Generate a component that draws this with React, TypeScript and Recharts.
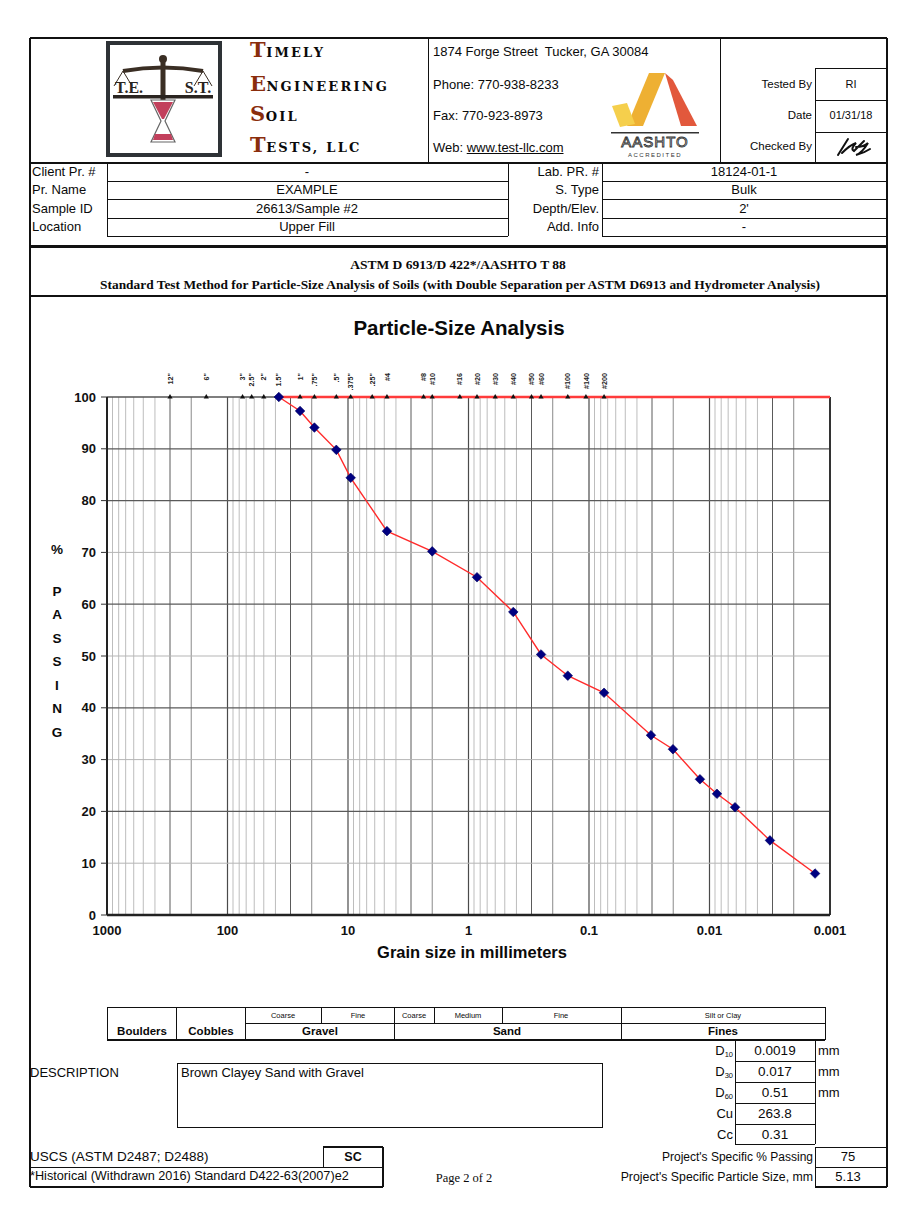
import React from "react";
import { ScatterChart, Scatter, XAxis, YAxis, ReferenceLine } from "recharts";

// gradation results (sieve + hydrometer), grain size in mm vs % passing
const SIZE_MM = [37.5, 25, 19, 12.5, 9.5, 4.75, 2.0, 0.85, 0.425, 0.25, 0.15, 0.075, 0.0306, 0.0201, 0.012, 0.00867, 0.00614, 0.00315, 0.00133];
const PCT_PASSING = [100, 97.3, 94.1, 89.8, 84.4, 74.1, 70.2, 65.2, 58.5, 50.3, 46.2, 42.9, 34.7, 32.0, 26.2, 23.4, 20.8, 14.4, 8.0];

// sieve openings marked along the top of the plot
const SIEVE_MM = [300, 150, 75, 63, 50, 37.5, 25, 19, 12.5, 9.5, 6.3, 4.75, 2.36, 2.0, 1.18, 0.85, 0.6, 0.425, 0.3, 0.25, 0.15, 0.106, 0.075];
const SIEVE_LABELS = ['12"', '6"', '3"', '2.5"', '2"', '1.5"', '1"', '.75"', '.5"', '.375"', '.25"', "#4", "#8", "#10", "#16", "#20", "#30", "#40", "#50", "#60", "#100", "#140", "#200"];

const X_TICKS = [1000, 100, 10, 1, 0.1, 0.01, 0.001];
const Y_TICKS = [0, 10, 20, 30, 40, 50, 60, 70, 80, 90, 100];
const DECADES = [100, 10, 1, 0.1, 0.01, 0.001];
const MINOR_STEPS = [2, 3, 4, 5, 6, 7, 8, 9];
const DARK_ROWS = [20, 40, 60, 80, 90];
const LIGHT_ROWS = [10, 30, 50, 70];

const SANS = "'Liberation Sans', Arial, sans-serif";
const SERIF = "'Liberation Serif', 'Times New Roman', serif";

const gradation = SIZE_MM.map((size, i) => ({ size, pct: PCT_PASSING[i] }));
const sieves = SIEVE_MM.map((size, i) => ({ size, pct: 100, label: SIEVE_LABELS[i] }));

type TP = {
  x: number;
  y: number;
  s?: number;
  a?: "l" | "c" | "r";
  b?: boolean;
  f?: string;
  c?: string;
  w?: number;
  children: React.ReactNode;
};

function T({ x, y, s = 13, a = "l", b, f = SANS, c = "#0a0a0a", w = 400, children }: TP) {
  const st: React.CSSProperties = {
    position: "absolute",
    top: y - s * 0.6,
    lineHeight: `${s * 1.2}px`,
    fontSize: s,
    fontFamily: f,
    fontWeight: b ? 700 : 400,
    color: c,
    whiteSpace: "nowrap",
  };
  if (a === "l") st.left = x;
  else if (a === "r") {
    st.left = x - w;
    st.width = w;
    st.textAlign = "right";
  } else {
    st.left = x - w / 2;
    st.width = w;
    st.textAlign = "center";
  }
  return <div style={st}>{children}</div>;
}

function H({ x1, x2, y, t = 1, c = "#111" }: { x1: number; x2: number; y: number; t?: number; c?: string }) {
  return <div style={{ position: "absolute", left: x1, top: y - t / 2, width: x2 - x1, height: t, background: c }} />;
}
function V({ x, y1, y2, t = 1, c = "#111" }: { x: number; y1: number; y2: number; t?: number; c?: string }) {
  return <div style={{ position: "absolute", left: x - t / 2, top: y1, width: t, height: y2 - y1, background: c }} />;
}

const Diamond = (props: any) => {
  const { cx, cy } = props;
  if (cx == null || cy == null) return null;
  const r = 4.8;
  return (
    <polygon
      points={`${cx},${cy - r} ${cx + r},${cy} ${cx},${cy + r} ${cx - r},${cy}`}
      fill="#000080"
      stroke="#000060"
      strokeWidth={0.6}
    />
  );
};

const SieveMark = (props: any) => {
  const { cx, cy, payload } = props;
  if (cx == null || cy == null) return null;
  return (
    <g>
      <polygon points={`${cx},${cy - 3} ${cx + 2.6},${cy + 1.5} ${cx - 2.6},${cy + 1.5}`} fill="#111" />
      <text
        transform={`translate(${cx + 2.6},${cy - 24}) rotate(-90)`}
        textAnchor="end"
        fontSize={7.2}
        fontWeight={700}
        fontFamily={SANS}
        fill="#222"
      >
        {payload.label}
      </text>
    </g>
  );
};

function CompanyLine({ y, first, rest }: { y: number; first: string; rest: string }) {
  return (
    <div
      style={{
        position: "absolute",
        left: 250,
        top: y - 13,
        lineHeight: "26px",
        fontFamily: "'DejaVu Serif', serif",
        fontWeight: 700,
        whiteSpace: "nowrap",
        letterSpacing: 2.2,
      }}
    >
      <span style={{ fontSize: 21, color: "#8a2d0c", letterSpacing: 0.5 }}>{first}</span>
      <span style={{ fontSize: 13, color: "#0a0a0a" }}>{rest}</span>
    </div>
  );
}

function Logo() {
  return (
    <svg width={118} height={118} style={{ position: "absolute", left: 105, top: 40 }}>
      <rect x={3} y={3} width={112} height={112} fill="#fff" stroke="#2e3236" strokeWidth={4} />
      <circle cx={58} cy={19} r={4} fill="#3a2e24" />
      <rect x={55.5} y={20} width={5} height={50} fill="#3a2e24" />
      <path d="M18 31 Q58 24 98 31" stroke="#3a2e24" strokeWidth={4} fill="none" />
      <path d="M18 31 L9 46 M18 31 L27 46 M98 31 L89 46 M98 31 L107 46" stroke="#3a2e24" strokeWidth={1} />
      <text x={24} y={53} textAnchor="middle" fontFamily={SERIF} fontWeight={700} fontSize={16} fill="#2a2420">T.E.</text>
      <text x={93} y={53} textAnchor="middle" fontFamily={SERIF} fontWeight={700} fontSize={16} fill="#2a2420">S.T.</text>
      <rect x={8} y={55} width={100} height={3.5} fill="#2a2420" />
      <path d="M46 60 L70 60 L60 81 L70 102 L46 102 L56 81 Z" fill="#fff" stroke="#666" strokeWidth={1.2} />
      <path d="M48 62 L68 62 L59 79 L57 79 Z" fill="#c2405c" />
      <path d="M48 100 L68 100 L66 94 L50 94 Z" fill="#c2405c" />
    </svg>
  );
}

function Aashto() {
  return (
    <svg width={92} height={96} style={{ position: "absolute", left: 609, top: 68 }}>
      <polygon points="40,5 56,5 34,58 18,58" fill="#eeb033" />
      <polygon points="56,5 64,12 88,58 72,58" fill="#e2583c" />
      <polygon points="3,38 18,35 26,56 11,59" fill="#f5cf4c" />
      <rect x={2} y={64} width={88} height={1.5} fill="#333" />
      <text x={46} y={79} textAnchor="middle" fontFamily={SANS} fontSize={15} fill="#fff" stroke="#333" strokeWidth={0.9} letterSpacing={1}>AASHTO</text>
      <text x={46} y={89} textAnchor="middle" fontFamily={SANS} fontSize={6} fill="#333" letterSpacing={1.5}>ACCREDITED</text>
    </svg>
  );
}

function Signature() {
  return (
    <svg width={40} height={24} style={{ position: "absolute", left: 834, top: 135 }}>
      <path
        d="M4 20 L14 4 M8 18 Q16 10 22 8 Q16 14 20 16 Q28 8 30 6 M22 12 Q30 12 34 8 Q28 18 22 20 Q30 18 36 14"
        stroke="#111"
        strokeWidth={2}
        fill="none"
        strokeLinecap="round"
      />
    </svg>
  );
}

const axisTick = { fontSize: 13, fontWeight: 700, fill: "#111", fontFamily: SANS };

function GrainChart() {
  const vGrid: React.ReactNode[] = [];
  DECADES.forEach((d) => {
    vGrid.push(<ReferenceLine key={`M${d}`} x={d} stroke="#4a4a4a" strokeWidth={1.2} />);
    MINOR_STEPS.forEach((m) => {
      const v = d * m;
      if (v > 1000) return;
      const col = m === 3 ? "#5a5a5a" : m === 2 ? "#8a8a8a" : "#bdbdbd";
      vGrid.push(<ReferenceLine key={`m${d}-${m}`} x={v} stroke={col} strokeWidth={1} />);
    });
  });
  return (
    <div style={{ position: "absolute", left: 0, top: 340 }}>
      <ScatterChart width={897} height={640} margin={{ top: 57, right: 67, bottom: 35, left: 67 }}>
        <XAxis
          dataKey="size"
          type="number"
          scale="log"
          domain={[0.001, 1000]}
          reversed
          allowDataOverflow
          ticks={X_TICKS}
          interval={0}
          tickLine={false}
          tickMargin={5}
          height={30}
          axisLine={{ stroke: "#222", strokeWidth: 2.5 }}
          tick={axisTick}
          tickFormatter={(v: number) => String(v)}
        />
        <YAxis
          dataKey="pct"
          type="number"
          domain={[0, 100]}
          ticks={Y_TICKS}
          interval={0}
          width={40}
          tickSize={6}
          tickMargin={5}
          axisLine={{ stroke: "#222", strokeWidth: 2 }}
          tickLine={{ stroke: "#333" }}
          tick={axisTick}
        />
        {vGrid}
        {LIGHT_ROWS.map((r) => (
          <ReferenceLine key={`l${r}`} y={r} stroke="#b5b5b5" strokeWidth={1} />
        ))}
        {DARK_ROWS.map((r) => (
          <ReferenceLine key={`d${r}`} y={r} stroke="#5a5a5a" strokeWidth={1.2} />
        ))}
        <ReferenceLine x={0.001} stroke="#333" strokeWidth={2} />
        <ReferenceLine y={100} stroke="#555" strokeWidth={1.6} />
        <ReferenceLine
          segment={[
            { x: SIZE_MM[0], y: 100 },
            { x: 0.001, y: 100 },
          ]}
          stroke="#ff3b3b"
          strokeWidth={2.6}
        />
        <Scatter data={sieves} shape={SieveMark} isAnimationActive={false} />
        <Scatter
          data={gradation}
          shape={Diamond}
          line={{ stroke: "#ff2b2b", strokeWidth: 1.4 }}
          isAnimationActive={false}
        />
      </ScatterChart>
    </div>
  );
}

const PASSING_LETTERS = ["P", "A", "S", "S", "I", "N", "G"];

export default function App() {
  const info = [
    ["Client Pr. #", "-", "Lab. PR. #", "18124-01-1"],
    ["Pr. Name", "EXAMPLE", "S. Type", "Bulk"],
    ["Sample ID", "26613/Sample #2", "Depth/Elev.", "2'"],
    ["Location", "Upper Fill", "Add. Info", "-"],
  ];
  const rowY = [163, 181, 199, 218, 236];
  return (
    <div style={{ position: "absolute", left: 0, top: 0, width: 897, height: 1216, background: "#fff", fontFamily: SANS }}>
      {/* frame */}
      <H x1={30} x2={887} y={38} t={1.5} />
      <V x={30} y1={38} y2={1187} t={1.5} />
      <V x={887} y1={38} y2={1187} t={1.5} />
      <V x={428} y1={38} y2={163} />
      <V x={720} y1={38} y2={163} />
      <H x1={30} x2={887} y={163} t={1.2} />

      <Logo />
      <CompanyLine y={50} first="T" rest="IMELY" />
      <CompanyLine y={84} first="E" rest="NGINEERING" />
      <CompanyLine y={114} first="S" rest="OIL" />
      <CompanyLine y={145} first="T" rest="ESTS, LLC" />

      <T x={433} y={52}>1874 Forge Street&nbsp; Tucker, GA 30084</T>
      <T x={433} y={85}>Phone: 770-938-8233</T>
      <T x={433} y={116}>Fax: 770-923-8973</T>
      <T x={433} y={148}>
        Web: <span style={{ textDecoration: "underline" }}>www.test-llc.com</span>
      </T>
      <Aashto />

      <H x1={815} x2={887} y={68} />
      <H x1={815} x2={887} y={100} />
      <H x1={815} x2={887} y={132} />
      <V x={815} y1={68} y2={163} />
      <T x={812} y={85} s={11.5} a="r">Tested By</T>
      <T x={812} y={116} s={11.5} a="r">Date</T>
      <T x={812} y={147} s={11.5} a="r">Checked By</T>
      <T x={851} y={85} s={11} a="c" w={70}>RI</T>
      <T x={851} y={116} s={11} a="c" w={70}>01/31/18</T>
      <Signature />

      {/* project info rows */}
      {rowY.slice(1).map((y) => (
        <React.Fragment key={y}>
          <H x1={107} x2={508} y={y} />
          <H x1={602} x2={887} y={y} />
        </React.Fragment>
      ))}
      <V x={107} y1={163} y2={236} />
      <V x={508} y1={163} y2={236} />
      <V x={602} y1={163} y2={236} />
      {info.map((r, i) => {
        const cy = (rowY[i] + rowY[i + 1]) / 2;
        return (
          <React.Fragment key={r[0]}>
            <T x={32} y={cy}>{r[0]}</T>
            <T x={307} y={cy} a="c">{r[1]}</T>
            <T x={599} y={cy} a="r">{r[2]}</T>
            <T x={744} y={cy} a="c">{r[3]}</T>
          </React.Fragment>
        );
      })}

      <H x1={30} x2={887} y={246} t={3} />
      <T x={458} y={265} s={13.5} a="c" b f={SERIF} w={800}>ASTM D 6913/D 422*/AASHTO T 88</T>
      <T x={460} y={285} s={13.4} a="c" b f={SERIF} w={880}>
        Standard Test Method for Particle-Size Analysis of Soils (with Double Separation per ASTM D6913 and Hydrometer Analysis)
      </T>
      <H x1={30} x2={887} y={296} t={1.5} />

      {/* chart */}
      <T x={459} y={328} s={20.5} a="c" b w={500}>Particle-Size Analysis</T>
      <GrainChart />
      <T x={57} y={550} s={13.5} a="c" b w={30}>%</T>
      {PASSING_LETTERS.map((ch, i) => (
        <T key={i} x={57} y={592 + i * 23.5} s={13.5} a="c" b w={30}>{ch}</T>
      ))}
      <T x={472} y={953} s={16.5} a="c" b w={400}>Grain size in millimeters</T>

      {/* soil classification table */}
      <H x1={107} x2={825} y={1007} />
      <H x1={245} x2={825} y={1023} />
      <H x1={107} x2={825} y={1040} t={2} />
      <V x={107} y1={1007} y2={1040} />
      <V x={176} y1={1007} y2={1040} />
      <V x={245} y1={1007} y2={1040} />
      <V x={321} y1={1007} y2={1023} />
      <V x={394} y1={1007} y2={1040} />
      <V x={434} y1={1007} y2={1023} />
      <V x={502} y1={1007} y2={1023} />
      <V x={621} y1={1007} y2={1040} />
      <V x={825} y1={1007} y2={1040} />
      <T x={283} y={1015} s={7.5} a="c" w={70}>Coarse</T>
      <T x={358} y={1015} s={7.5} a="c" w={70}>Fine</T>
      <T x={414} y={1015} s={7.5} a="c" w={40}>Coarse</T>
      <T x={468} y={1015} s={7.5} a="c" w={60}>Medium</T>
      <T x={561} y={1015} s={7.5} a="c" w={100}>Fine</T>
      <T x={723} y={1015} s={7.5} a="c" w={200}>Silt or Clay</T>
      <T x={142} y={1032} s={11.5} a="c" b w={68}>Boulders</T>
      <T x={211} y={1032} s={11.5} a="c" b w={68}>Cobbles</T>
      <T x={320} y={1032} s={11.5} a="c" b w={140}>Gravel</T>
      <T x={507} y={1032} s={11.5} a="c" b w={220}>Sand</T>
      <T x={723} y={1032} s={11.5} a="c" b w={200}>Fines</T>

      {/* gradation coefficients */}
      <V x={735} y1={1040} y2={1144} />
      <V x={815} y1={1040} y2={1144} />
      <H x1={735} x2={815} y={1061} />
      <H x1={735} x2={815} y={1082} />
      <H x1={735} x2={815} y={1103} />
      <H x1={735} x2={815} y={1124} />
      <H x1={735} x2={815} y={1144} />
      {[
        ["10", "0.0019", 1051],
        ["30", "0.017", 1072],
        ["60", "0.51", 1093],
      ].map(([sub, val, y]) => (
        <React.Fragment key={sub as string}>
          <T x={733} y={y as number} a="r" w={60}>
            D<sub style={{ fontSize: 7.5, verticalAlign: "-2px" }}>{sub}</sub>
          </T>
          <T x={775} y={y as number} s={13.5} a="c" w={80}>{val}</T>
          <T x={818} y={y as number}>mm</T>
        </React.Fragment>
      ))}
      <T x={733} y={1114} a="r" w={60}>Cu</T>
      <T x={775} y={1114} s={13.5} a="c" w={80}>263.8</T>
      <T x={733} y={1135} a="r" w={60}>Cc</T>
      <T x={775} y={1135} s={13.5} a="c" w={80}>0.31</T>

      {/* description */}
      <T x={30} y={1073}>DESCRIPTION</T>
      <div style={{ position: "absolute", left: 177, top: 1063, width: 426, height: 65, border: "1px solid #111", boxSizing: "border-box" }} />
      <T x={181} y={1073}>Brown Clayey Sand with Gravel</T>

      {/* footer */}
      <T x={30} y={1157} s={13.5}>USCS (ASTM D2487; D2488)</T>
      <H x1={323} x2={383} y={1147} t={1.5} />
      <V x={323} y1={1147} y2={1167} />
      <V x={383} y1={1147} y2={1187} t={1.5} />
      <T x={353} y={1157} s={12.5} a="c" b w={60}>SC</T>
      <H x1={30} x2={383} y={1167} />
      <T x={30} y={1177} s={12.7}>*Historical (Withdrawn 2016) Standard D422-63(2007)e2</T>
      <H x1={30} x2={383} y={1187} t={1.5} />
      <T x={464} y={1178} s={12.5} a="c" f={SERIF} w={120}>Page 2 of 2</T>
      <T x={813} y={1157} s={12} a="r" w={300}>Project's Specific % Passing</T>
      <T x={813} y={1177} s={12.3} a="r" w={300}>Project's Specific Particle Size, mm</T>
      <H x1={815} x2={887} y={1147} />
      <H x1={815} x2={887} y={1167} />
      <H x1={815} x2={887} y={1187} t={1.5} />
      <V x={815} y1={1147} y2={1187} />
      <T x={848} y={1157} s={13} a="c" w={70}>75</T>
      <T x={848} y={1177} s={13} a="c" w={70}>5.13</T>
    </div>
  );
}
